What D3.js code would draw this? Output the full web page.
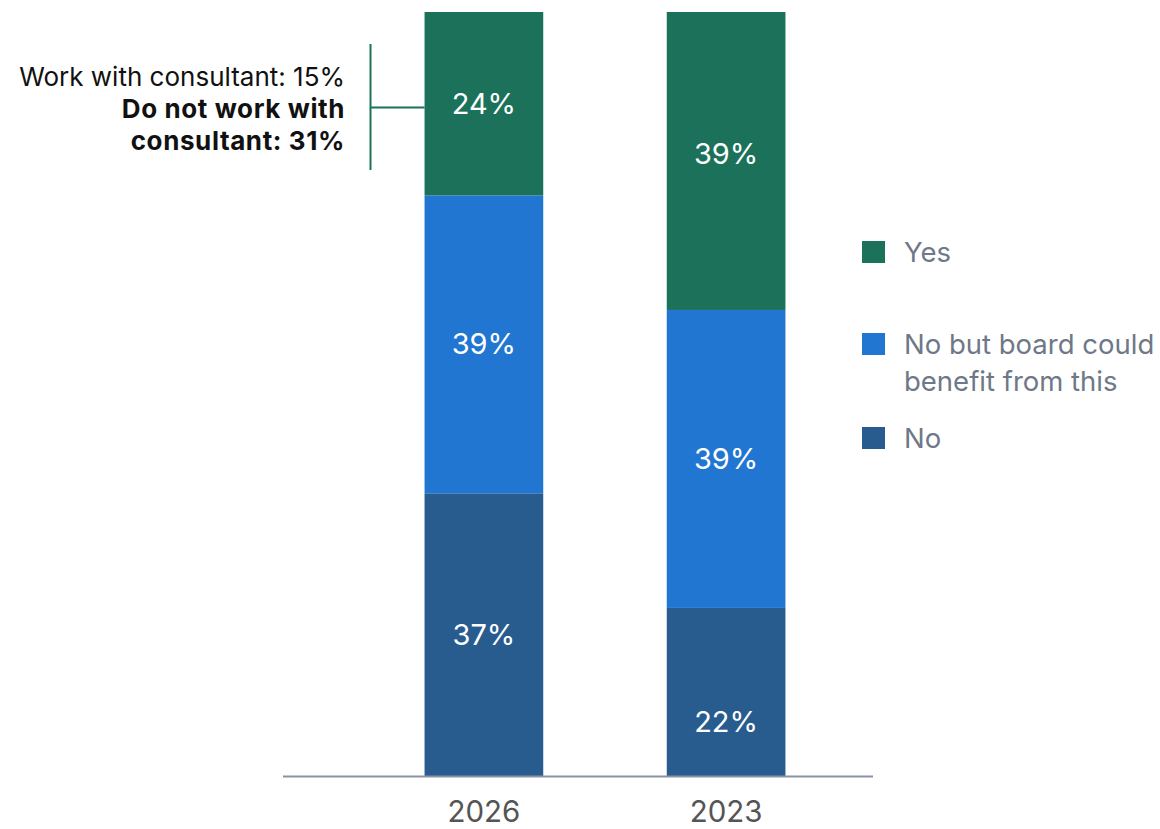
<!DOCTYPE html>
<html>
<head>
<meta charset="utf-8">
<script src="https://cdn.jsdelivr.net/npm/d3@7"></script>
<style>
  body { margin: 0; background: #fff; }
  text { font-family: Inter, "Noto Sans", sans-serif; }
</style>
</head>
<body>
<div id="chart"></div>
<script>
// data
const years = ["2026", "2023"];
const categories = ["No", "No but board could benefit from this", "Yes"];
const noValues = [37, 22];
const couldBenefitValues = [39, 39];
const yesValues = [24, 39];
const legendLabels = [["Yes"], ["No but board could", "benefit from this"], ["No"]];
const noteLines = ["Work with consultant: 15%", "Do not work with", "consultant: 31%"];

const W = 1160, H = 829;
const colors = {"Yes": "#1b7159", "No but board could benefit from this": "#2176d2", "No": "#285c8f"};
// small nudges of value labels, as in the original layout (by series, then year)
const labelNudge = {"No": [0, 30], "No but board could benefit from this": [0, 0], "Yes": [0, -7]};

const svg = d3.select("#chart").append("svg")
    .attr("width", W)
    .attr("height", H);

const rows = years.map((y, i) => ({
    year: y,
    "No": noValues[i],
    "No but board could benefit from this": couldBenefitValues[i],
    "Yes": yesValues[i]
}));

const stack = d3.stack().keys(categories);
const series = stack(rows);

const x = d3.scaleBand()
    .domain(years)
    .range([364, 846])
    .paddingInner(0.51)
    .paddingOuter(0.25);

const y = d3.scaleLinear()
    .domain([0, 100])
    .range([776, 12]);

// bars
const groups = svg.selectAll(".series")
    .data(series)
    .enter()
    .append("g")
    .attr("class", "series")
    .attr("fill", d => colors[d.key]);

groups.selectAll("rect")
    .data(d => d)
    .enter()
    .append("rect")
    .attr("x", d => x(d.data.year))
    .attr("width", x.bandwidth())
    .attr("y", d => y(d[1]))
    .attr("height", d => y(d[0]) - y(d[1]));

groups.each(function(s) {
    d3.select(this).selectAll(".val")
        .data(s)
        .enter()
        .append("text")
        .attr("class", "val")
        .attr("x", d => x(d.data.year) + x.bandwidth() / 2)
        .attr("y", (d, i) => (y(d[0]) + y(d[1])) / 2 + labelNudge[s.key][i])
        .attr("dy", "0.35em")
        .attr("text-anchor", "middle")
        .attr("fill", "#fff")
        .attr("font-size", 29)
        .text(d => (d[1] - d[0]) + "%");
});

// x axis
const xAxis = svg.append("g")
    .attr("transform", "translate(0,776)")
    .call(d3.axisBottom(x).tickSize(0).tickPadding(25));
xAxis.select(".domain").remove();
xAxis.selectAll("text")
    .attr("font-size", 29.5)
    .attr("fill", "#555")
    .style("font-family", "Inter, 'Noto Sans', sans-serif");

svg.append("line")
    .attr("x1", 283).attr("x2", 873)
    .attr("y1", 776.5).attr("y2", 776.5)
    .attr("stroke", "#8a93a3")
    .attr("stroke-width", 2);

// legend
const legendY = [252, 344, 438];
const legend = svg.selectAll(".legend")
    .data(legendLabels)
    .enter()
    .append("g")
    .attr("class", "legend")
    .attr("transform", (d, i) => "translate(862," + legendY[i] + ")");

legend.append("rect")
    .attr("x", 0).attr("y", -11)
    .attr("width", 23).attr("height", 22)
    .attr("fill", (d, i) => colors[categories[2 - i]]);

legend.append("text")
    .attr("x", 42)
    .attr("fill", "#6e7888")
    .attr("font-size", 27.5)
    .selectAll("tspan")
    .data(d => d)
    .enter()
    .append("tspan")
    .attr("x", 42)
    .attr("y", (d, i) => i * 37)
    .attr("dy", "0.35em")
    .text(d => d);

// annotation bracket
const note = svg.append("g");
note.append("line")
    .attr("x1", 370.5).attr("x2", 370.5)
    .attr("y1", 44).attr("y2", 170)
    .attr("stroke", "#1b7159").attr("stroke-width", 2);
note.append("line")
    .attr("x1", 370).attr("x2", x("2026"))
    .attr("y1", 107.5).attr("y2", 107.5)
    .attr("stroke", "#1b7159").attr("stroke-width", 2);

note.append("text")
    .attr("text-anchor", "end")
    .attr("font-size", 26)
    .attr("fill", "#111")
    .selectAll("tspan")
    .data(noteLines)
    .enter()
    .append("tspan")
    .attr("x", 345)
    .attr("y", (d, i) => 86 + i * 32)
    .attr("font-weight", (d, i) => i > 0 ? "bold" : "normal")
    .attr("letter-spacing", (d, i) => i > 0 ? 0.6 : 0)
    .text(d => d);
</script>
</body>
</html>
